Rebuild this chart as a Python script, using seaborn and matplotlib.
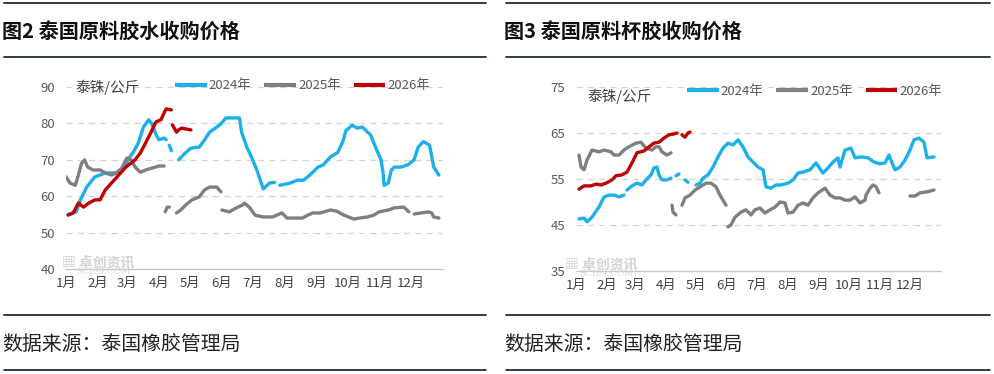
import numpy as np
import pandas as pd
import seaborn as sns
import matplotlib.pyplot as plt
from matplotlib.lines import Line2D

# ---- data (day of year, THB/kg); None marks a gap ----
latex_2024_day = [3, 11, 15, 21, 29, 39, 49, 57, 62, 66, 71, 76, 81, 84, 88, 91, 96, 98, None,
                  101, 103, None, 110, 117, 122, 130, 135, 140, 150, 156, 169, 171, 176, 181, 186,
                  192, 198, 203, None, 208, 218, 225, 231, 237, 245, 250, 257, 264, 269, 272, 278,
                  283, 288, 293, 296, 299, 303, 306, 308, 309, 313, 316, 319, 325, 332, 338, 342,
                  347, 353, 357, 362]
latex_2024_val = [55, 55.7, 59, 62.5, 65.3, 66.4, 66.4, 67.7, 70.5, 72, 74.6, 79, 81, 80, 77, 75.5,
                  76, 75.5, None, 74, 72.5, None, 70, 72, 73.2, 73.5, 75.4, 77.6, 79.6, 81.5, 81.5,
                  77.6, 73.5, 70.5, 67, 62, 63.6, 63.8, None, 63, 63.6, 64.4, 64.4, 65.8, 68, 68.6,
                  70.8, 72, 75, 78, 79.5, 78.7, 79, 77.6, 76.8, 74.6, 71.9, 70, 66.4, 63, 63.6,
                  67.2, 68, 68, 68.6, 70, 73.5, 75, 74, 68, 65.8]

latex_2025_day = [1, 5, 10, 13, 16, 19, 22, 27, 34, 39, 45, 50, 55, 60, 64, 68, 73, 78, 84, 91, 96,
                  None, 97, 99, 101, None, 108, 112, 117, 123, 130, 135, 140, 147, 151, None,
                  152, 159, 166, 172, 174, 179, 184, 192, 201, 210, 215, 230, 235, 240, 247, 257,
                  263, 270, 280, 285, 293, 299, 304, 313, 319, 328, 333, None, 338, 345, 352, 355,
                  357, 362]
latex_2025_val = [65.3, 63.6, 63, 65.8, 69, 70, 68, 67.2, 67.2, 66.4, 65.8, 66.4, 67.7, 70.5, 70,
                  68, 66.6, 67.2, 67.7, 68.3, 68.3, None, 55.7, 57, 57, None, 55.4, 56.2, 57.6,
                  59, 59.8, 61.7, 62.5, 62.5, 61.2, None, 56.2, 55.7, 56.8, 57.6, 58.1, 56.8, 54.8,
                  54.3, 54.3, 55.4, 54, 54, 54.8, 55.4, 55.4, 56.2, 55.9, 54.8, 53.7, 54, 54.3,
                  54.8, 55.7, 56.2, 56.8, 57, 55.7, None, 55.1, 55.4, 55.7, 55.4, 54.3, 54]

latex_2026_day = [3, 8, 13, 18, 23, 29, 34, 39, 45, 52, 59, 64, 68, 73, 78, 83, 88, 93, 96, 98, 103,
                  None, 104, 108, 110, 113, 122]
latex_2026_val = [54.8, 55.4, 58.1, 57, 58.1, 59, 59, 61.7, 63.6, 65.8, 68, 69.1, 70, 71.9, 74.6,
                  77.4, 80.4, 81, 82.9, 84, 83.7, None, 79.6, 77.6, 78.2, 78.7, 78.2]

cup_2024_day = [4, 9, 12, 17, 24, 29, 34, 39, 44, 49, None, 52, 57, 62, 67, 71, 76, 79, 82, 84, 87,
                92, 96, None, 101, 104, None, 110, 113, None, 121, 125, 128, 133, 138, 143, 148,
                153, 158, 163, 168, 173, 178, 183, 188, 191, 196, 201, 206, 213, 218, 223, 228,
                235, 241, 248, 253, 258, 263, 265, 270, 276, 280, 286, 293, 299, 305, 310, 314,
                317, 320, 325, 330, 335, 339, 344, 349, 352, 359]
cup_2024_val = [46.3, 46.5, 45.7, 46.7, 48.9, 51.1, 51.5, 51.5, 51.1, 51.5, None, 52.6, 53.5, 54.1,
                53.7, 54.8, 55.9, 57.4, 57.6, 55.9, 54.8, 54.8, 55.2, None, 55.7, 56.1, None,
                54.8, 54.3, None, 53.7, 54.1, 55.2, 55.9, 57.6, 59.8, 61.7, 62.8, 62.4, 63.5, 62,
                59.8, 58.7, 57.6, 57, 53.3, 53, 53.7, 53.7, 54.1, 54.8, 56.3, 56.5, 57, 58.5,
                56.3, 57.4, 58.7, 59.6, 57.6, 61.3, 61.7, 59.6, 59.8, 59.6, 58.7, 58.3, 58.5,
                60.2, 58.5, 57, 57.6, 59.1, 61.3, 63.5, 63.9, 63, 59.6, 59.8]

cup_2025_day = [4, 6, 9, 12, 17, 24, 29, 36, 39, 44, 49, 54, 61, 66, 71, 77, 81, 84, 87, 92, 96,
                None, 97, 98, 101, None, 107, 110, 115, 120, 125, 131, 136, 141, 145, 148, 151,
                None, 153, 156, 160, 166, 171, 176, 180, 185, 190, 195, 200, 205, 210, 213, 218,
                223, 228, 233, 238, 243, 250, 255, 260, 265, 270, 275, 280, 285, 290, 291, 295,
                298, 301, 304, None, 335, 340, 345, 352, 359]
cup_2025_val = [60.2, 57.6, 57, 59.1, 61.3, 60.9, 61.3, 60.9, 60.2, 60.2, 61.3, 62, 62.8, 63, 61.7,
                61.3, 62, 62, 60.9, 60.2, 60.7, None, 49.3, 47.8, 47.2, None, 49.3, 50.9, 51.5,
                52.6, 53.3, 54.1, 54.1, 53.3, 51.5, 50.4, 49.3, None, 44.6, 45, 46.7, 47.8, 48.3,
                47.2, 48.3, 48.7, 47.6, 48.3, 48.9, 50, 49.8, 47.6, 47.8, 49.3, 49.8, 49.3, 50.9,
                52, 53, 51.5, 50.9, 50.9, 50.4, 50.4, 51.1, 49.8, 50.4, 51.5, 53, 53.7, 53.3, 52,
                None, 51.3, 51.3, 52, 52.2, 52.6]

cup_2026_day = [4, 9, 16, 21, 26, 31, 37, 41, 47, 52, 57, 62, 69, 74, 79, 84, 89, 94, 99, 102,
                None, 107, 110, 113, 115]
cup_2026_val = [52.8, 53.5, 53.5, 53.9, 53.7, 54.1, 54.8, 55.7, 55.9, 56.5, 58.5, 60.7, 61.1, 62,
                62.8, 63, 63.9, 64.6, 64.8, 65, None, 64.6, 64.1, 65, 65.2]

years = ['2024年', '2025年', '2026年']
month_start = [1, 32, 60, 91, 121, 152, 182, 213, 244, 274, 305, 335]
month_labels = ['1月', '2月', '3月', '4月', '5月', '6月', '7月', '8月', '9月', '10月', '11月', '12月']
colors = {'2024年': '#1cb0ea', '2025年': '#7f7f7f', '2026年': '#c00000'}


def to_frame(series):
    # turn (year, days, values) with None gaps into rows with a segment id
    rows = []
    seg = 0
    for year, days, vals in series:
        for d, v in zip(days, vals):
            if d is None:
                seg += 1
                continue
            rows.append({'day': d, 'price': v, 'year': year, 'seg': seg})
        seg += 1
    return pd.DataFrame(rows)


latex = to_frame([(years[0], latex_2024_day, latex_2024_val),
                  (years[1], latex_2025_day, latex_2025_val),
                  (years[2], latex_2026_day, latex_2026_val)])
cup = to_frame([(years[0], cup_2024_day, cup_2024_val),
                (years[1], cup_2025_day, cup_2025_val),
                (years[2], cup_2026_day, cup_2026_val)])

sns.set_style('white')
plt.rcParams['font.family'] = ['Noto Sans CJK SC', 'DejaVu Sans']

W, H = 994, 374
fig = plt.figure(figsize=(W / 100, H / 100), dpi=100)


def px_axes(x0, y_top, x1, y_bot):
    return fig.add_axes([x0 / W, 1 - y_bot / H, (x1 - x0) / W, (y_bot - y_top) / H])


def hline(x0, x1, y):
    fig.add_artist(Line2D([x0 / W, x1 / W], [1 - y / H, 1 - y / H], color='#1f2d3d', lw=1.3))


def draw_panel(ax, df, ylim, yticks, legend_xy, unit_xy):
    sns.lineplot(data=df, x='day', y='price', hue='year', units='seg', estimator=None,
                 palette=colors, hue_order=years, lw=2.4, ax=ax, legend=False)
    ax.set_xlim(1, 366)
    ax.set_ylim(*ylim)
    ax.set_yticks(yticks)
    ax.set_xticks(month_start)
    ax.set_xticklabels(month_labels)
    ax.set_xlabel('')
    ax.set_ylabel('')
    for s in ['top', 'right', 'left']:
        ax.spines[s].set_visible(False)
    ax.spines['bottom'].set_color('#c8c8c8')
    ax.spines['bottom'].set_linewidth(1.0)
    ax.tick_params(axis='y', length=0, pad=8, labelsize=9.5, labelcolor='#595959')
    ax.tick_params(axis='x', length=4, color='#c8c8c8', direction='out', pad=2,
                   labelsize=9.5, labelcolor='#404040')
    for t in yticks[1:]:
        ax.axhline(t, color='#d4d4d4', lw=0.9, ls=(0, (5, 4)), zorder=0)
    handles = [Line2D([], [], color=colors[y], lw=3, solid_capstyle='butt') for y in years]
    ax.legend(handles, years, loc='center left', bbox_to_anchor=(legend_xy[0] / W, 1 - legend_xy[1] / H),
              bbox_transform=fig.transFigure, ncol=3, frameon=False, fontsize=9.5,
              handlelength=2.4, handletextpad=0.15, columnspacing=1.0, borderpad=0,
              borderaxespad=0, labelcolor='#595959')
    fig.text(unit_xy[0] / W, 1 - unit_xy[1] / H, '泰铢/公斤', fontsize=10.5, color='#404040',
             va='center', ha='left')


ax1 = px_axes(66, 87, 443, 269)
draw_panel(ax1, latex, (40, 90), [40, 50, 60, 70, 80, 90], (175, 86), (75, 87))
ax2 = px_axes(576, 87, 941, 271)
draw_panel(ax2, cup, (35, 75), [35, 45, 55, 65, 75], (687, 91), (587, 96))

# watermark
for x0, yb in [(62, 262), (565, 264)]:
    fig.text(x0 / W, 1 - yb / H, '▦ 卓创资讯', fontsize=10, color='#c8c8c8', va='center',
             fontweight='bold', alpha=0.8)
    fig.text((x0 + 14) / W, 1 - (yb + 10) / H, 'SCI99.COM', fontsize=6.5, color='#cfcfcf',
             va='center', family='DejaVu Serif', alpha=0.8)

# titles, footers and rule lines
for xl, xr, title in [(4, 486, '图2 泰国原料胶水收购价格'), (506, 990, '图3 泰国原料杯胶收购价格')]:
    hline(xl, xr, 3)
    hline(xl, xr, 57)
    hline(xl, xr, 315)
    hline(xl, xr, 370)
    fig.text((xl - 2) / W, 1 - 31 / H, title, fontsize=14.5, fontweight='bold', color='#111111',
             va='center', ha='left')
    fig.text((xl - 2) / W, 1 - 344 / H, '数据来源：泰国橡胶管理局', fontsize=14.3, color='#222222',
             va='center', ha='left')

fig.savefig('out.png', dpi=100)
